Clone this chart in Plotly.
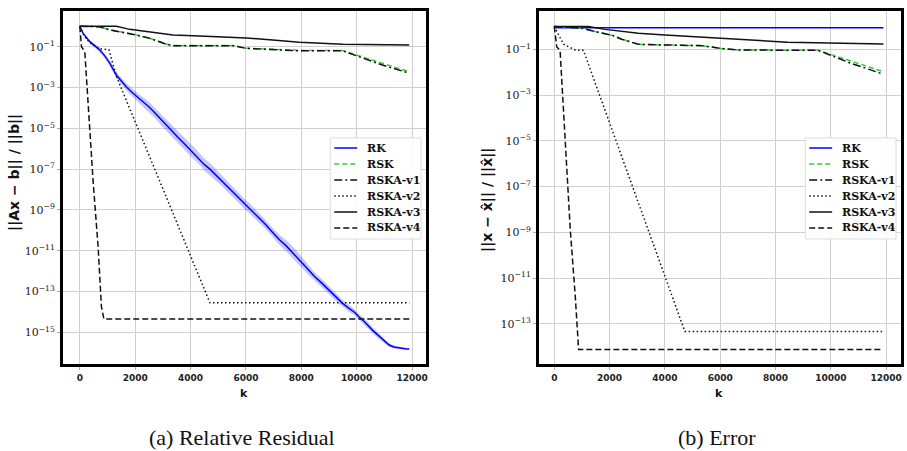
import plotly.graph_objects as go

# ---------------- data (log10 exponents) ----------------
# Left panel: relative residual
rk_k = [0, 120, 360, 540, 721, 900, 1081, 1322, 1500, 1700, 1922, 2150, 2350, 2523, 2750,
        2950, 3123, 3350, 3550, 3724, 3950, 4150, 4324, 4500, 4700, 4925, 5150, 5350, 5525,
        5750, 5946, 6150, 6300, 6487, 6700, 6967, 7200, 7448, 7700, 7928, 8200, 8468, 8750,
        9009, 9250, 9490, 9700, 9910, 10090, 10300, 10571, 10850, 11171, 11350, 11532, 11750, 11900]
rk_res_exp = [0, -0.35, -0.75, -0.95, -1.16, -1.45, -1.8, -2.4, -2.7, -3.0, -3.28, -3.55, -3.8,
              -3.98, -4.3, -4.6, -4.85, -5.15, -5.45, -5.68, -6.0, -6.25, -6.5, -6.78, -7.0,
              -7.3, -7.6, -7.9, -8.1, -8.45, -8.7, -8.95, -9.15, -9.4, -9.7, -10.1, -10.45,
              -10.75, -11.1, -11.45, -11.85, -12.25, -12.6, -12.95, -13.3, -13.58, -13.8, -14.0,
              -14.25, -14.5, -14.89, -15.25, -15.62, -15.72, -15.77, -15.8, -15.82]
rk_res_spread = [0, 0.05, 0.08, 0.1, 0.12, 0.12, 0.14, 0.15, 0.16, 0.18, 0.2, 0.22, 0.22, 0.25,
                 0.25, 0.27, 0.28, 0.3, 0.3, 0.3, 0.3, 0.3, 0.28, 0.3, 0.3, 0.28, 0.25, 0.25,
                 0.25, 0.25, 0.25, 0.25, 0.25, 0.22, 0.22, 0.22, 0.25, 0.28, 0.3, 0.3, 0.25,
                 0.2, 0.2, 0.2, 0.18, 0.18, 0.18, 0.15, 0.15, 0.15, 0.15, 0.12, 0.1, 0.08,
                 0.06, 0.05, 0.04]

rsk_res_k = [0, 700, 1081, 1802, 2043, 2523, 3123, 3363, 5525, 6006, 7928, 9489, 10930, 11900]
rsk_res_exp = [0, -0.02, -0.17, -0.33, -0.42, -0.58, -0.87, -0.94, -0.94, -1.07, -1.18, -1.19, -1.81, -2.23]
v1_res_exp = [0, -0.02, -0.18, -0.34, -0.43, -0.59, -0.88, -0.95, -0.95, -1.08, -1.2, -1.2, -1.9, -2.30]

v2_res_k = [0, 150, 350, 700, 1050, 1320, 4700, 11900]
v2_res_exp = [0, -0.45, -0.8, -1.1, -1.15, -2.45, -13.55, -13.55]

v3_res_k = [0, 1322, 1802, 2523, 3363, 4324, 6006, 6967, 7928, 9500, 11900]
v3_res_exp = [0, 0.0, -0.15, -0.29, -0.43, -0.48, -0.57, -0.67, -0.78, -0.88, -0.92]

v4_res_k = [0, 60, 180, 480, 660, 780, 870, 11900]
v4_res_exp = [0, -1.0, -1.25, -7.6, -10.8, -13.74, -14.35, -14.35]

# Right panel: error
rk_err_k = [0, 60, 11900]
rk_err_exp = [0.0, -0.06, -0.06]

rsk_err_k = [0, 995, 1597, 2076, 2436, 3038, 3877, 5319, 6040, 6641, 8443, 9524, 10724, 11900]
rsk_err_exp = [0.0, -0.08, -0.26, -0.38, -0.56, -0.78, -0.81, -0.84, -0.96, -1.03, -1.04, -1.03, -1.51, -1.98]
v1_err_exp = [0.0, -0.08, -0.26, -0.38, -0.56, -0.78, -0.81, -0.84, -0.96, -1.03, -1.04, -1.04, -1.61, -2.09]

v2_err_k = [0, 335, 757, 1056, 4721, 11900]
v2_err_exp = [0, -0.78, -1.03, -1.05, -13.33, -13.33]

v3_err_k = [0, 1236, 1838, 3038, 4000, 6040, 7243, 8443, 11900]
v3_err_exp = [0.0, 0.0, -0.13, -0.3, -0.38, -0.52, -0.62, -0.69, -0.77]

v4_err_k = [0, 90, 210, 480, 580, 760, 880, 11900]
v4_err_exp = [0, -0.9, -1.05, -6.7, -8.9, -11.8, -14.12, -14.12]

series_names = ["RK", "RSK", "RSKA-v1", "RSKA-v2", "RSKA-v3", "RSKA-v4"]
x_tick_vals = [0, 2000, 4000, 6000, 8000, 10000, 12000]
y_tick_exps_left = [-1, -3, -5, -7, -9, -11, -13, -15]
y_tick_exps_right = [-1, -3, -5, -7, -9, -11, -13]

# ---------------- styles ----------------
BLUE = "#0000ff"
GREEN = "#33cc33"
BLACK = "#111111"
LW = 1.5
styles = {
    "RK": dict(color=BLUE, width=LW, dash="solid"),
    "RSK": dict(color=GREEN, width=LW, dash="5px,3px"),
    "RSKA-v1": dict(color=BLACK, width=LW, dash="8px,3px,2px,3px"),
    "RSKA-v2": dict(color=BLACK, width=LW, dash="1.5px,2.5px"),
    "RSKA-v3": dict(color=BLACK, width=LW, dash="solid"),
    "RSKA-v4": dict(color=BLACK, width=LW, dash="6px,3px"),
}


def pw(exps):
    return [10 ** e for e in exps]


fig = go.Figure()

# band around RK (left)
fig.add_trace(go.Scatter(x=rk_k, y=pw([e + s for e, s in zip(rk_res_exp, rk_res_spread)]),
                         mode="lines", line=dict(width=0), showlegend=False,
                         xaxis="x", yaxis="y", hoverinfo="skip"))
fig.add_trace(go.Scatter(x=rk_k, y=pw([e - s for e, s in zip(rk_res_exp, rk_res_spread)]),
                         mode="lines", line=dict(width=0), fill="tonexty",
                         fillcolor="rgba(0,0,255,0.22)", showlegend=False,
                         xaxis="x", yaxis="y", hoverinfo="skip"))

left_series = [
    ("RK", rk_k, rk_res_exp),
    ("RSK", rsk_res_k, rsk_res_exp),
    ("RSKA-v1", rsk_res_k, v1_res_exp),
    ("RSKA-v2", v2_res_k, v2_res_exp),
    ("RSKA-v3", v3_res_k, v3_res_exp),
    ("RSKA-v4", v4_res_k, v4_res_exp),
]
right_series = [
    ("RK", rk_err_k, rk_err_exp),
    ("RSK", rsk_err_k, rsk_err_exp),
    ("RSKA-v1", rsk_err_k, v1_err_exp),
    ("RSKA-v2", v2_err_k, v2_err_exp),
    ("RSKA-v3", v3_err_k, v3_err_exp),
    ("RSKA-v4", v4_err_k, v4_err_exp),
]

for name, kk, ee in left_series:
    fig.add_trace(go.Scatter(x=kk, y=pw(ee), mode="lines", name=name, line=styles[name],
                             xaxis="x", yaxis="y", showlegend=False))
for name, kk, ee in right_series:
    fig.add_trace(go.Scatter(x=kk, y=pw(ee), mode="lines", name=name, line=styles[name],
                             xaxis="x2", yaxis="y2", showlegend=False))

W, H = 907, 451


def px_x(p):
    return p / W


def px_y(p):
    return 1 - p / H


tick_font = dict(family="DejaVu Serif", size=11, color="#222")
xtick_font = dict(family="DejaVu Sans", size=9, color="#222", weight="bold")
grid = "#d0d0d0"

common_x = dict(showgrid=True, gridcolor=grid, gridwidth=1, zeroline=False,
                showline=True, linecolor="#000", linewidth=2.5, mirror=True,
                ticks="outside", ticklen=3, tickcolor="#aaa", tickvals=x_tick_vals,
                ticktext=[str(v) for v in x_tick_vals], tickfont=xtick_font)
common_y = dict(type="log", showgrid=True, gridcolor=grid, gridwidth=1, zeroline=False,
                showline=True, linecolor="#000", linewidth=2.5, mirror=True,
                ticks="outside", ticklen=3, tickcolor="#aaa", tickfont=tick_font)

fig.update_layout(
    width=W, height=H, margin=dict(l=0, r=0, t=0, b=0),
    paper_bgcolor="white", plot_bgcolor="white", showlegend=False,
    xaxis=dict(domain=[px_x(63), px_x(427)], range=[-613, 12506], anchor="y", **common_x),
    yaxis=dict(domain=[px_y(364), px_y(11)], range=[-16.55, 0.75], anchor="x",
               tickvals=[10 ** e for e in y_tick_exps_left],
               ticktext=[f"10<sup>\u2212{-e}</sup>" for e in y_tick_exps_left], **common_y),
    xaxis2=dict(domain=[px_x(540), px_x(903)], range=[-559, 12538], anchor="y2", **common_x),
    yaxis2=dict(domain=[px_y(364), px_y(11)], range=[-14.75, 0.673], anchor="x2",
                tickvals=[10 ** e for e in y_tick_exps_right],
                ticktext=[f"10<sup>\u2212{-e}</sup>" for e in y_tick_exps_right], **common_y),
)

# ---------------- hand-built legends (compact like the reference) ----------------
legend_font = dict(family="DejaVu Serif", size=11, color="#111", weight="bold")
row_y = [148, 164, 180, 196, 212, 228]
for box_left, box_right in [(331, 422), (807, 898)]:
    fig.add_shape(type="rect", xref="paper", yref="paper",
                  x0=px_x(box_left), x1=px_x(box_right), y0=px_y(239), y1=px_y(138),
                  fillcolor="rgba(255,255,255,0.9)", line=dict(color="#dddddd", width=1),
                  layer="above")
    for name, ry in zip(series_names, row_y):
        st = styles[name]
        fig.add_shape(type="line", xref="paper", yref="paper",
                      x0=px_x(box_left + 4), x1=px_x(box_left + 27), y0=px_y(ry), y1=px_y(ry),
                      line=dict(color=st["color"], width=st["width"], dash=st["dash"]),
                      layer="above")
        fig.add_annotation(xref="paper", yref="paper", x=px_x(box_left + 35), y=px_y(ry),
                           text=name, showarrow=False, xanchor="left", yanchor="middle",
                           font=legend_font)

label_font = dict(family="DejaVu Sans", size=14, color="#111", weight="bold")
annots = [
    dict(text="||Ax \u2212 b|| / ||b||", x=px_x(14), y=px_y(172), textangle=-90, font=label_font),
    dict(text="||x \u2212 x\u0302|| / ||x\u0302||", x=px_x(488), y=px_y(200), textangle=-90, font=label_font),
    dict(text="k", x=px_x(245), y=px_y(393), font=dict(family="DejaVu Sans", size=11, color="#111", weight="bold")),
    dict(text="k", x=px_x(721), y=px_y(393), font=dict(family="DejaVu Sans", size=11, color="#111", weight="bold")),
    dict(text="(a) Relative Residual", x=px_x(243), y=px_y(437),
         font=dict(family="Liberation Serif", size=22, color="#111")),
    dict(text="(b) Error", x=px_x(719), y=px_y(437),
         font=dict(family="Liberation Serif", size=22, color="#111")),
]
for a in annots:
    fig.add_annotation(xref="paper", yref="paper", showarrow=False, xanchor="center",
                       yanchor="middle", **a)

fig.write_html("out.html")
